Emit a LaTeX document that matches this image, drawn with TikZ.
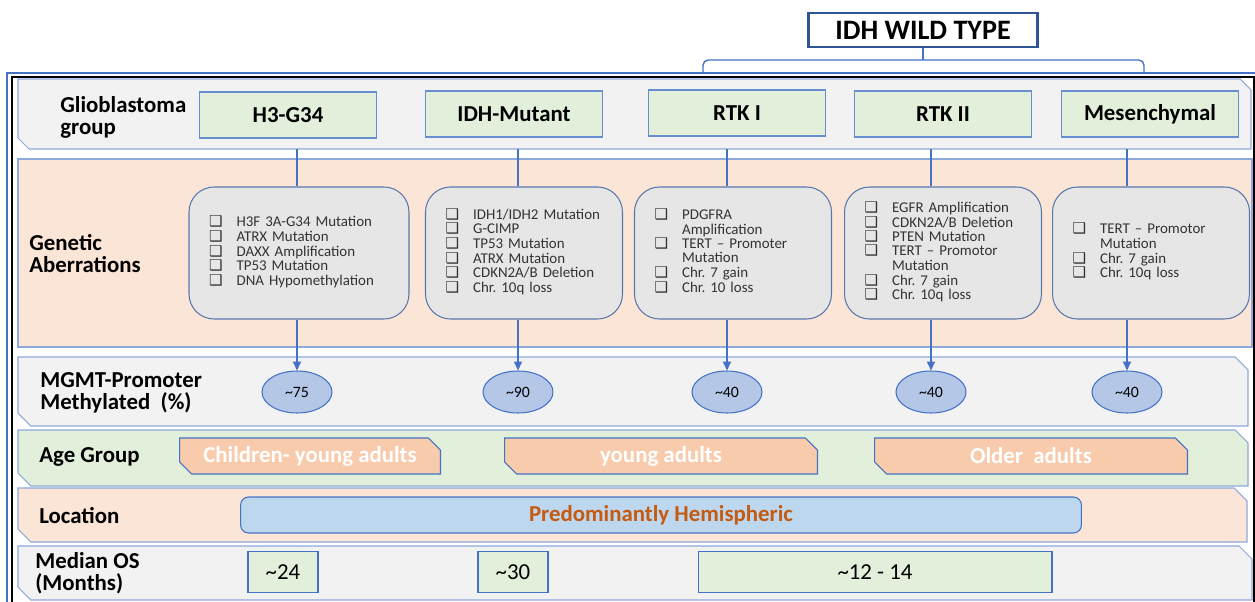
\documentclass[tikz,border=0pt]{standalone}
\usepackage{fontspec}
\setmainfont{Carlito}
\newfontfamily\dvfont{DejaVu Sans}
\usepackage{tikz}
\usetikzlibrary{arrows.meta,positioning,shapes.geometric,shapes.misc}

\definecolor{bordblue}{HTML}{4472C4}
\definecolor{darkblue}{HTML}{2F5597}
\definecolor{rowedge}{HTML}{8EA9DB}
\definecolor{rowgray}{HTML}{F2F2F2}
\definecolor{rowpeach}{HTML}{FBE5D6}
\definecolor{rowgreen}{HTML}{E2EFDA}
\definecolor{boxgray}{HTML}{E7E6E6}
\definecolor{ovalblue}{HTML}{B4C7E7}
\definecolor{agepeach}{HTML}{F8CBAD}
\definecolor{locblue}{HTML}{BDD7EE}
\definecolor{locorange}{HTML}{C55A11}

\newcommand\chk{\smash{\dvfont\fontsize{8.6}{8}\selectfont ❑}}

\tikzset{
  rowline/.style={draw=rowedge, line width=0.6pt},
  rowlabel/.style={anchor=west, align=left, inner sep=0pt, font=\bfseries\fontsize{13}{12.5}\selectfont},
  grpbox/.style={draw=bordblue!80, fill=rowgreen, line width=0.6pt, minimum width=3.54cm, minimum height=0.92cm, font=\bfseries\fontsize{13}{14}\selectfont},
  abbox/.style={draw=darkblue!80, fill=boxgray, line width=0.6pt, rounded corners=0.5cm, inner xsep=0.4cm, inner ysep=0pt, minimum height=2.64cm, text=black!80, font=\fontsize{8.5}{8.1}\selectfont},
  mgmt/.style={ellipse, draw=bordblue, fill=ovalblue, line width=0.6pt, minimum width=1.4cm, minimum height=0.84cm, inner sep=0pt, font=\fontsize{9}{10}\selectfont},
  agebox/.style={chamfered rectangle, chamfered rectangle corners={north east,south west}, chamfered rectangle xsep=0.12cm, chamfered rectangle ysep=0.12cm, draw=bordblue, fill=agepeach, line width=0.6pt, minimum height=0.72cm, inner sep=0pt, text=white, font=\bfseries\fontsize{13}{14}\selectfont},
  osbox/.style={draw=bordblue, fill=rowgreen, line width=0.6pt, minimum height=0.82cm, font=\fontsize{13}{14}\selectfont},
  link/.style={draw=bordblue, line width=0.8pt},
  arr/.style={link, -{Triangle[length=5pt,width=4.5pt]}},
}

\begin{document}
\frenchspacing
\begin{tikzpicture}[x=0.02cm, y=-0.02cm]
  \useasboundingbox (0,0) rectangle (1255,602);

  % Outer frame
  \draw[bordblue, line width=0.6pt] (7,73) rectangle (1275,620);
  \draw[black, line width=1.4pt] (12,77) rectangle (1254,620);

  % Row panels
  \foreach \ya/\yb/\xr/\cc/\col in {79/149/1251/11/rowgray, 159/347/1252/0/rowpeach, 357/426/1248/13/rowgray, 430/486/1248/13/rowgreen, 488/542/1247/13/rowpeach, 546/600/1252/13/rowgray} {
    \draw[rowline, fill=\col] (18,\ya) -- (\xr-\cc,\ya) -- (\xr,\ya+\cc) -- (\xr,\yb) -- (18+\cc,\yb) -- (18,\yb-\cc) -- cycle;
  }

  % Row labels
  \node[rowlabel] (lgrp) at (60,117) {Glioblastoma\\group};
  \node[rowlabel] (lgen) at (29,254) {Genetic\\Aberrations};
  \node[rowlabel] (lmgmt) at (40,393) {MGMT-Promoter\\Methylated\ \ (\%)};
  \node[rowlabel] (lage) at (39,457) {Age Group};
  \node[rowlabel] (lloc) at (39,516) {Location};
  \node[rowlabel] (los) at (35,573) {Median OS\\(Months)};

  % IDH wild type bracket
  \node[draw=darkblue, line width=1.7pt, fill=white, minimum width=4.6cm, minimum height=0.68cm, font=\bfseries\fontsize{16}{18}\selectfont] (wdt) at (923,30) {IDH WILD TYPE};
  \coordinate (brc) at (923,60);
  \draw[link, rounded corners=3pt] (703,72) -- (703,60) -- (1144,60) -- (1144,72);
  \draw[link] (brc) -- (wdt.south);

  % Groups
  \node[grpbox] (g1) at (288,115) {H3-G34};
  \node[grpbox] (g2) at (514,114) {IDH-Mutant};
  \node[grpbox] (g3) at (737,113) {RTK I};
  \node[grpbox] (g4) at (943,114) {RTK II};
  \node[grpbox] (g5) at (1150,114) {Mesenchymal};

  % Genetic aberrations
  \node[abbox, text width=3.6cm] (a1) at (299,253) {\begin{tabular}{@{}l@{\hspace{8pt}}l@{}}
    \chk & H3F 3A-G34 Mutation\\
    \chk & ATRX Mutation\\
    \chk & DAXX Amplification\\
    \chk & TP53 Mutation\\
    \chk & DNA Hypomethylation
  \end{tabular}};
  \node[abbox, text width=3.14cm] (a2) at (524,253) {\begin{tabular}{@{}l@{\hspace{8pt}}l@{}}
    \chk & IDH1/IDH2 Mutation\\
    \chk & G-CIMP\\
    \chk & TP53 Mutation\\
    \chk & ATRX Mutation\\
    \chk & CDKN2A/B Deletion\\
    \chk & Chr. 10q loss
  \end{tabular}};
  \node[abbox, text width=3.14cm] (a3) at (733,253) {\begin{tabular}{@{}l@{\hspace{8pt}}l@{}}
    \chk & PDGFRA\\
         & Amplification\\
    \chk & TERT – Promoter\\
         & Mutation\\
    \chk & Chr. 7 gain\\
    \chk & Chr. 10 loss
  \end{tabular}};
  \node[abbox, text width=3.14cm] (a4) at (943,253) {\begin{tabular}{@{}l@{\hspace{8pt}}l@{}}
    \chk & EGFR Amplification\\
    \chk & CDKN2A/B Deletion\\
    \chk & PTEN Mutation\\
    \chk & TERT – Promotor\\
         & Mutation\\
    \chk & Chr. 7 gain\\
    \chk & Chr. 10q loss
  \end{tabular}};
  \node[abbox, text width=3.14cm] (a5) at (1151,253) {\begin{tabular}{@{}l@{\hspace{8pt}}l@{}}
    \chk & TERT – Promotor\\
         & Mutation\\
    \chk & Chr. 7 gain\\
    \chk & Chr. 10q loss
  \end{tabular}};

  % MGMT promoter methylation
  \node[mgmt] (m1) at (297,392) {\textasciitilde75};
  \node[mgmt] (m2) at (518,392) {\textasciitilde90};
  \node[mgmt] (m3) at (727,392) {\textasciitilde40};
  \node[mgmt] (m4) at (931,392) {\textasciitilde40};
  \node[mgmt] (m5) at (1127,392) {\textasciitilde40};

  % Connectors
  \coordinate (r1b) at (0,149);
  \foreach \i in {1,...,5} {
    \draw[link] (m\i.north |- r1b) -- (m\i.north |- a\i.north);
    \draw[arr] (m\i.north |- a\i.south) -- (m\i.north);
  }

  % Age group
  \node[agebox, minimum width=5.22cm] (age1) at (310,456) {Children- young adults};
  \node[agebox, minimum width=6.26cm] (age2) at (661,456) {young adults};
  \node[agebox, minimum width=6.26cm] (age3) at (1031,456) {Older\ \ adults};

  % Location
  \node[draw=bordblue, fill=locblue, line width=0.6pt, rounded corners=0.16cm, minimum width=16.82cm, minimum height=0.72cm, text=locorange, font=\bfseries\fontsize{13}{14}\selectfont] (loc) at (661,515) {Predominantly Hemispheric};

  % Median OS
  \node[osbox, minimum width=1.4cm] (os1) at (283,572) {\textasciitilde24};
  \node[osbox, minimum width=1.4cm] (os2) at (513,572) {\textasciitilde30};
  \node[osbox, minimum width=7.08cm] (os3) at (875,572) {\textasciitilde12 - 14};
\end{tikzpicture}
\end{document}
